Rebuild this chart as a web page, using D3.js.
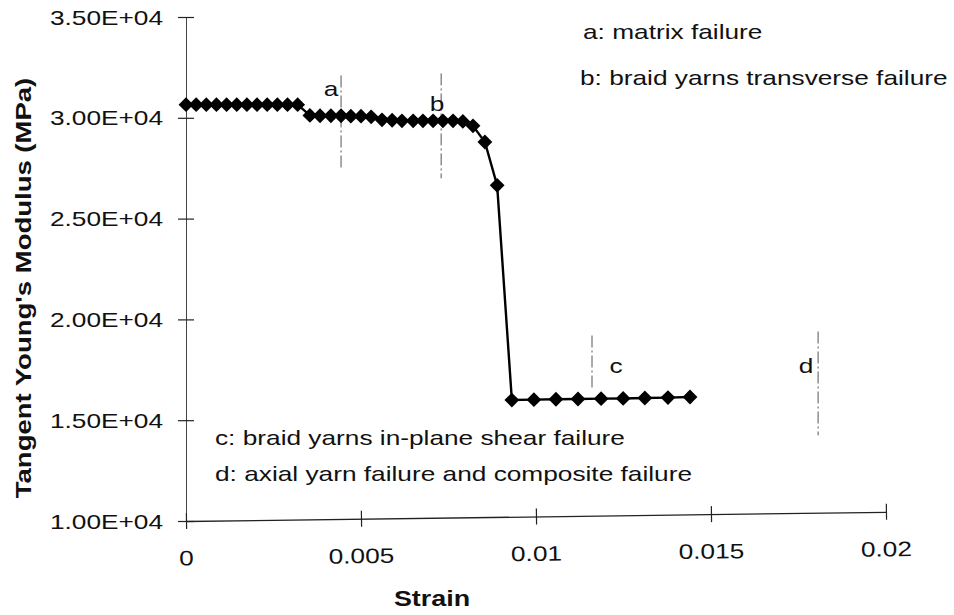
<!DOCTYPE html>
<html>
<head>
<meta charset="utf-8">
<script src="https://cdn.jsdelivr.net/npm/d3@7"></script>
<style>
  html, body { margin: 0; padding: 0; background: #fff; }
  svg { display: block; }
  text { font-family: "Liberation Sans", Arial, Helvetica, sans-serif; fill: #111; }
</style>
</head>
<body>
<svg id="chart" width="954" height="615"></svg>
<script>
// Tangent Young's modulus vs. strain
const strain = [
  0, 0.00029, 0.00058, 0.00087, 0.00116, 0.00145, 0.00174, 0.00203, 0.00232, 0.00261, 0.0029, 0.00319,
  0.00354, 0.00383, 0.00414, 0.00443, 0.00471, 0.005, 0.00529,
  0.0056, 0.00589, 0.00617, 0.00649, 0.00677, 0.00706, 0.00734, 0.00763, 0.00791,
  0.0082, 0.00854, 0.00889, 0.00931,
  0.00994, 0.01057, 0.0112, 0.01186, 0.01249, 0.01311, 0.01377, 0.0144
];
const modulus = [
  30650, 30650, 30650, 30650, 30650, 30650, 30650, 30650, 30650, 30650, 30650, 30650,
  30120, 30100, 30100, 30100, 30080, 30080, 30050,
  29900, 29880, 29850, 29850, 29850, 29850, 29850, 29850, 29820,
  29600, 28800, 26650, 16000,
  16020, 16040, 16050, 16070, 16080, 16100, 16120, 16150
];

// failure markers
const markerNames  = ["a", "b", "c", "d"];
const markerStrain = [0.00443, 0.00729, 0.0116, 0.01806];
const markerTop    = [32100, 32200, 19200, 19400];
const markerBottom = [27500, 27000, 16600, 14250];

const legendLines = [
  "a: matrix failure",
  "b: braid yarns transverse failure",
  "c: braid yarns in-plane shear failure",
  "d: axial yarn failure and composite failure"
];

const xTicks = [0, 0.005, 0.01, 0.015, 0.02];
const xTickLabels = ["0", "0.005", "0.01", "0.015", "0.02"];
const yTicks = [10000, 15000, 20000, 25000, 30000, 35000];
const yTickLabels = ["1.00E+04", "1.50E+04", "2.00E+04", "2.50E+04", "3.00E+04", "3.50E+04"];

const svg = d3.select("#chart");
const X0 = 186, X1 = 886, Y0 = 521, Y1 = 17;
const x = d3.scaleLinear().domain([0, 0.02]).range([X0, X1]);
const y = d3.scaleLinear().domain([10000, 35000]).range([Y0, Y1]);
const SX = 1.25; // wide face

function stretchedText(g, tx, ty, str, opts = {}) {
  const t = g.append("text")
    .attr("transform", `translate(${tx},${ty})${opts.rotate ? ` rotate(${opts.rotate})` : ""} scale(${SX},1)`)
    .attr("text-anchor", opts.anchor || "start")
    .attr("dominant-baseline", "central")
    .style("font-size", (opts.size || 21) + "px")
    .text(str);
  if (opts.bold) t.style("font-weight", "bold");
  return t;
}

// y axis
const yAxis = d3.axisLeft(y).tickValues(yTicks).tickSize(0).tickFormat("");
const gy = svg.append("g").attr("transform", `translate(${X0},0)`).call(yAxis);
gy.select(".domain").attr("stroke", "#444").attr("stroke-width", 1);
gy.selectAll(".tick").append("line")
  .attr("x1", -8).attr("x2", 8).attr("stroke", "#222").attr("stroke-width", 1.2);
yTicks.forEach((v, i) => stretchedText(svg, 163, y(v), yTickLabels[i], { anchor: "end" }));

// x axis (slightly tilted baseline)
const gxWrap = svg.append("g").attr("transform", `rotate(-0.75,${X0},${Y0})`);
const xAxis = d3.axisBottom(x).tickValues(xTicks).tickSize(0).tickFormat("");
const gx = gxWrap.append("g").attr("transform", `translate(0,${Y0})`).call(xAxis);
gx.select(".domain").attr("stroke", "#222").attr("stroke-width", 1.3);
gx.selectAll(".tick").append("line")
  .attr("y1", -8).attr("y2", 8).attr("stroke", "#222").attr("stroke-width", 1.2);
xTicks.forEach((v, i) => stretchedText(gxWrap, x(v), Y0 + 37, xTickLabels[i], { anchor: "middle" }));

// axis titles
stretchedText(svg, (X0 + X1) / 2 - 104, 598, "Strain", { anchor: "middle", size: 21.5, bold: true });
stretchedText(svg, 23, 288, "Tangent Young's Modulus (MPa)", { anchor: "middle", size: 22, bold: true, rotate: -90 });

// failure marker lines and letters
markerNames.forEach((name, i) => {
  svg.append("line")
    .attr("x1", x(markerStrain[i])).attr("x2", x(markerStrain[i]))
    .attr("y1", y(markerTop[i])).attr("y2", y(markerBottom[i]))
    .attr("stroke", "#555").attr("stroke-width", 1)
    .attr("stroke-dasharray", "12,3,2,3");
});
const letterDx = [-10, -4, 24, -12];
const letterY  = [31450, 30700, 17700, 17700];
markerNames.forEach((name, i) => {
  stretchedText(svg, x(markerStrain[i]) + letterDx[i], y(letterY[i]), name, { anchor: "middle" });
});

// descriptions
stretchedText(svg, 583, 31, legendLines[0]);
stretchedText(svg, 580, 77, legendLines[1]);
stretchedText(svg, 215, 437, legendLines[2]);
stretchedText(svg, 215, 473, legendLines[3]);

// data series
const pts = strain.map((s, i) => [s, modulus[i]]);
svg.append("path")
  .datum(pts)
  .attr("fill", "none")
  .attr("stroke", "#000")
  .attr("stroke-width", 2.4)
  .attr("d", d3.line().x(d => x(d[0])).y(d => y(d[1])));

const diamond = d3.symbol().type(d3.symbolDiamond2).size(140);
svg.append("g").selectAll("path")
  .data(pts)
  .join("path")
  .attr("transform", d => `translate(${x(d[0])},${y(d[1])})`)
  .attr("d", diamond)
  .attr("fill", "#000");
</script>
</body>
</html>
